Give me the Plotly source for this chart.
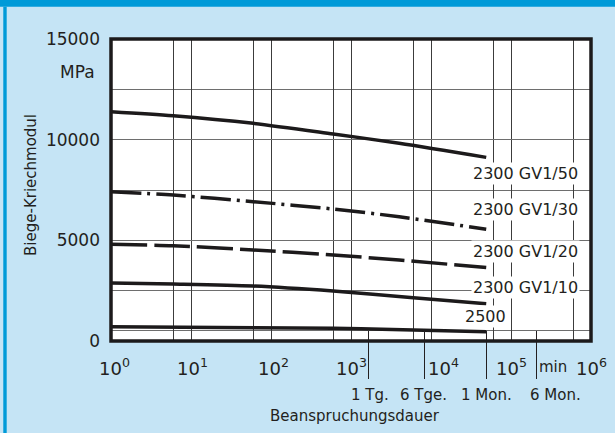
import numpy as np
import plotly.graph_objects as go

# ---------------- data ----------------
t_gv50 = [1, 6, 60, 600, 4000, 49000]
e_gv50 = [11390, 11190, 10810, 10280, 9820, 9120]
t_gv30 = [1, 6, 60, 600, 4000, 49000]
e_gv30 = [7415, 7250, 6920, 6555, 6170, 5550]
t_gv20 = [1, 6, 60, 600, 4000, 49000]
e_gv20 = [4800, 4730, 4520, 4270, 4020, 3650]
t_gv10 = [1, 6, 60, 600, 6000, 49000]
e_gv10 = [2880, 2830, 2730, 2480, 2150, 1850]
t_2500 = [1, 600, 6000, 49000]
e_2500 = [710, 630, 550, 460]

series_names = ["2300 GV1/50", "2300 GV1/30", "2300 GV1/20", "2300 GV1/10", "2500"]
series_dash = ["solid", "30px,6px,3px,6px", "36px,7px", "solid", "solid"]

x_grid = [1, 6, 10, 60, 100, 600, 1000, 6000, 10000, 60000, 100000, 600000, 1000000]
decades = [0, 1, 2, 3, 4, 5, 6]
y_ticks = [0, 5000, 10000, 15000]
y_tick_labels = ["0", "5000", "10000", "15000"]
y_minor_grid = [500, 2500, 7500, 12500]

time_ticks = [1660, 8400, 49000, 210000]
time_labels = ["1 Tg.", "6 Tge.", "1 Mon.", "6 Mon."]
time_label_shift = [1, -1, 0, 19]
decade_shift = [3, 1, 2, 0, 12, 0, 0]

# ---------------- styles ----------------
LIGHT = "#c5e4f5"
BLUE = "#009ad8"
INK = "#1c1a1b"
TXT = "#231f20"
FONT = "DejaVu Sans"

fig = go.Figure()
series = [(t_gv50, e_gv50), (t_gv30, e_gv30), (t_gv20, e_gv20), (t_gv10, e_gv10), (t_2500, e_2500)]
for (tx, ey), name, dash in zip(series, series_names, series_dash):
    fig.add_trace(go.Scatter(x=tx, y=ey, mode="lines", name=name,
                             line=dict(color=INK, width=3.5, dash=dash, shape="spline", smoothing=0.8),
                             showlegend=False, hoverinfo="skip"))

# helper traces so the overlay tick axes are drawn
for ax in ["x2", "x3"]:
    fig.add_trace(go.Scatter(x=time_ticks, y=[None] * len(time_ticks), xaxis=ax, yaxis="y",
                             mode="lines", showlegend=False, hoverinfo="skip"))

annotations = []
# decade labels
for d, sh in zip(decades, decade_shift):
    annotations.append(dict(x=d, xref="x", y=-0.086, yref="paper", text=f"10<sup>{d}</sup>",
                            showarrow=False, xanchor="center", yanchor="middle", xshift=sh,
                            font=dict(family=FONT, size=18, color=TXT)))
annotations.append(dict(x=6, xref="x", y=-0.086, yref="paper", text="min", showarrow=False,
                        xanchor="right", yanchor="middle", xshift=-22,
                        font=dict(family=FONT, size=15, color=TXT)))
for tv, lab, sh in zip(time_ticks, time_labels, time_label_shift):
    annotations.append(dict(x=float(np.log10(tv)), xref="x", y=-0.179, yref="paper", text=lab,
                            showarrow=False, xanchor="center", yanchor="middle", xshift=sh,
                            font=dict(family=FONT, size=15, color=TXT)))
annotations.append(dict(x=0.509, xref="paper", y=-0.248, yref="paper", text="Beanspruchungsdauer",
                        showarrow=False, xanchor="center", yanchor="middle",
                        font=dict(family=FONT, size=15, color=TXT)))
annotations.append(dict(x=-0.1667, xref="paper", y=0.5166, yref="paper", text="Biege-Kriechmodul",
                        showarrow=False, textangle=-90, xanchor="center", yanchor="middle",
                        font=dict(family=FONT, size=15, color=TXT)))
annotations.append(dict(x=-0.029, xref="paper", y=0.892, yref="paper", text="MPa",
                        showarrow=False, xanchor="right", yanchor="middle",
                        font=dict(family=FONT, size=17, color=TXT)))
# curve labels
label_y = [0.553, 0.437, 0.296, 0.1755, 0.0805]
label_x = [0.977, 0.977, 0.977, 0.977, 0.827]
for name, lx, ly in zip(series_names, label_x, label_y):
    annotations.append(dict(x=lx, xref="paper", y=ly, yref="paper", text=name, showarrow=False,
                            xanchor="right", yanchor="middle", bgcolor="white", borderpad=1,
                            font=dict(family=FONT, size=16, color=TXT)))

shapes = [
    dict(type="rect", xref="paper", yref="paper", x0=0, x1=1, y0=0, y1=1,
         line=dict(color=INK, width=3.5), layer="above"),
    dict(type="rect", xref="paper", yref="paper", x0=-0.5, x1=1.5, y0=1.107, y1=1.4,
         line=dict(width=0), fillcolor=BLUE, layer="below"),
    dict(type="rect", xref="paper", yref="paper", x0=-0.2244, x1=-0.2173, y0=-0.4, y1=1.107,
         line=dict(width=0), fillcolor=BLUE, layer="below"),
]

fig.update_layout(
    width=615, height=433,
    margin=dict(l=111, r=24, t=39, b=92, pad=0),
    paper_bgcolor=LIGHT, plot_bgcolor="white",
    font=dict(family=FONT, color=TXT),
    xaxis=dict(type="log", range=[0, 6], tickvals=x_grid, showticklabels=False,
               showgrid=True, gridcolor="#3c3c3c", gridwidth=1.1, ticks="", showline=False,
               zeroline=False, fixedrange=True),
    xaxis2=dict(type="log", range=[0, 6], overlaying="x", anchor="y", side="bottom",
                tickvals=time_ticks, ticks="outside", ticklen=37, tickwidth=1.4, tickcolor=TXT,
                showticklabels=False, showgrid=False, zeroline=False, showline=False),
    xaxis3=dict(type="log", range=[0, 6], overlaying="x", anchor="y", side="bottom",
                tickvals=time_ticks, ticks="inside", ticklen=10, tickwidth=1.4, tickcolor=TXT,
                showticklabels=False, showgrid=False, zeroline=False, showline=False),
    yaxis=dict(range=[0, 15000], tickvals=y_ticks, ticktext=y_tick_labels, showgrid=True,
               gridcolor="#6e6e6e", gridwidth=1.4, ticks="", zeroline=False, showline=False,
               minor=dict(tickvals=y_minor_grid, showgrid=True, gridcolor="#6e6e6e",
                          gridwidth=1.4, ticks=""),
               ticklabelstandoff=10, tickfont=dict(family=FONT, size=17, color=TXT)),
    annotations=annotations,
    shapes=shapes,
    showlegend=False,
)

fig.write_html("out.html", config={"displayModeBar": False},
               post_script="document.body.style.margin='0';document.body.style.padding='0';"
                           "document.body.style.background='" + LIGHT + "';")
